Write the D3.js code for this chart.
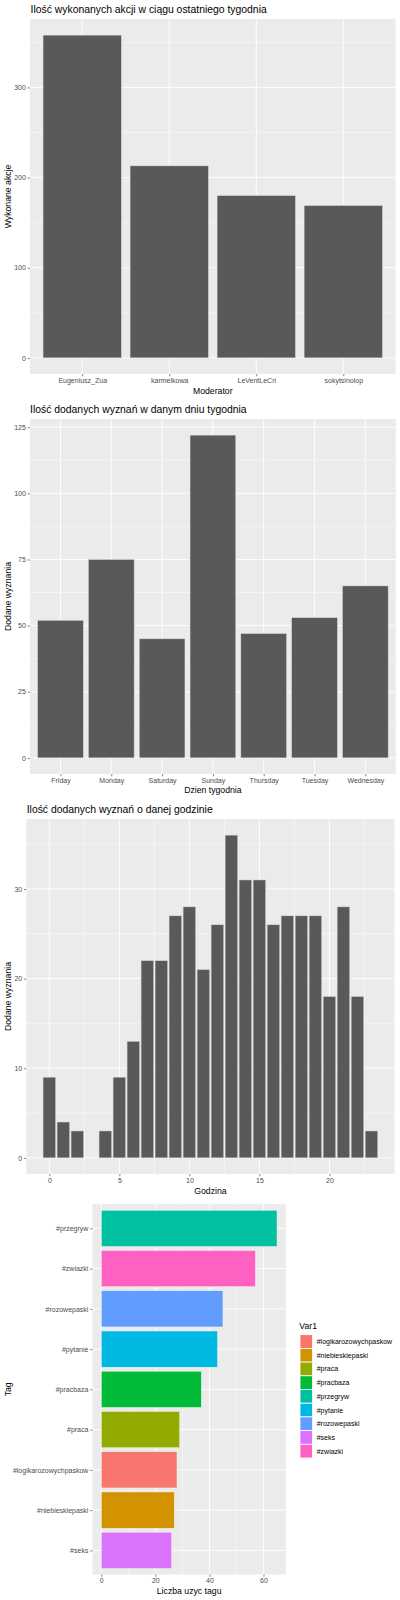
<!DOCTYPE html>
<html><head><meta charset="utf-8">
<script src="https://cdn.jsdelivr.net/npm/d3@7"></script>
<style>
html,body{margin:0;padding:0;background:#fff;}
svg text{font-family:"Liberation Sans",Arial,Helvetica,sans-serif;}
</style></head>
<body>
<svg id="c" width="400" height="1600"></svg>
<script>
// ---- data ----
const modNames = ["Eugeniusz_Zua","karmelkowa","LeVentLeCri","sokytsinolop"];
const modValues = [358, 213, 180, 169];

const dayNames = ["Friday","Monday","Saturday","Sunday","Thursday","Tuesday","Wednesday"];
const dayValues = [52, 75, 45, 122, 47, 53, 65];

const hours = [0,1,2,4,5,6,7,8,9,10,11,12,13,14,15,16,17,18,19,20,21,22,23];
const hourValues = [9,4,3,3,9,13,22,22,27,28,21,26,36,31,31,26,27,27,27,18,28,18,3];

const tagNames = ["#przegryw","#zwiazki","#rozowepaski","#pytanie","#pracbaza","#praca","#logikarozowychpaskow","#niebieskiepaski","#seks"];
const tagValues = [65, 57, 45, 43, 37, 29, 28, 27, 26];
const legendTags = ["#logikarozowychpaskow","#niebieskiepaski","#praca","#pracbaza","#przegryw","#pytanie","#rozowepaski","#seks","#zwiazki"];
const legendColors = ["#F8766D","#D39200","#93AA00","#00BA38","#00C19F","#00B9E3","#619CFF","#DB72FB","#FF61C3"];

const yTicks1 = [0,100,200,300];
const yTicks2 = [0,25,50,75,100,125];
const xTicks3 = [0,5,10,15,20];
const yTicks3 = [0,10,20,30];
const xTicks4 = [0,20,40,60];

// ---- style ----
const BG = "#EBEBEB", BAR = "#595959", TXT = "#4D4D4D";
const FT = 10.4, FA = 8.7, FK = 7;
const svg = d3.select("#c");
const tagColor = d3.scaleOrdinal().domain(legendTags).range(legendColors);

function panel(x0,x1,y0,y1){
  svg.append("rect").attr("x",x0).attr("y",y0).attr("width",x1-x0).attr("height",y1-y0).attr("fill",BG);
}
function hGrid(y, vals, x0, x1, w){
  svg.append("g").selectAll("line").data(vals).join("line")
    .attr("x1",x0).attr("x2",x1).attr("y1",d=>y(d)).attr("y2",d=>y(d))
    .attr("stroke","#fff").attr("stroke-width",w);
}
function vGrid(x, vals, y0, y1, w){
  svg.append("g").selectAll("line").data(vals).join("line")
    .attr("y1",y0).attr("y2",y1).attr("x1",d=>x(d)).attr("x2",d=>x(d))
    .attr("stroke","#fff").attr("stroke-width",w);
}
function leftAxis(scale, vals, x0, fmt){
  const g = svg.append("g").attr("transform",`translate(${x0},0)`)
    .call(d3.axisLeft(scale).tickValues(vals).tickSize(2.3).tickPadding(1.8).tickFormat(fmt||(d=>d)));
  g.select(".domain").remove();
  g.selectAll(".tick line").attr("stroke","#333").attr("stroke-width",0.6);
  g.selectAll(".tick text").attr("fill",TXT).style("font-size",FK+"px").style("font-family","Liberation Sans, Arial, sans-serif");
}
function bottomAxis(scale, vals, y0){
  const g = svg.append("g").attr("transform",`translate(0,${y0})`)
    .call(d3.axisBottom(scale).tickValues(vals).tickSize(2.3).tickPadding(1.6));
  g.select(".domain").remove();
  g.selectAll(".tick line").attr("stroke","#333").attr("stroke-width",0.6);
  g.selectAll(".tick text").attr("fill",TXT).style("font-size",FK+"px").style("font-family","Liberation Sans, Arial, sans-serif");
}
function title(txt,x,y){
  svg.append("text").attr("x",x).attr("y",y).attr("font-size",FT).attr("fill","#000").text(txt);
}
function xTitle(txt,cx,y){
  svg.append("text").attr("x",cx).attr("y",y).attr("text-anchor","middle").attr("font-size",FA).attr("fill","#000").text(txt);
}
function yTitle(txt,cy){
  svg.append("text").attr("transform",`translate(10.5,${cy}) rotate(-90)`).attr("text-anchor","middle").attr("font-size",FA).attr("fill","#000").text(txt);
}

// ===== Chart 1 =====
{
  const x0=30, x1=395.5, y0=19, y1=374;
  const mx = d3.max(modValues);
  const x = d3.scalePoint().domain(modNames).range([x0,x1]).padding(0.6);
  const y = d3.scaleLinear().domain([-0.05*mx, 1.05*mx]).range([y1,y0]);
  panel(x0,x1,y0,y1);
  hGrid(y,[50,150,250,350],x0,x1,0.45);
  hGrid(y,yTicks1,x0,x1,0.9);
  vGrid(x,modNames,y0,y1,0.9);
  const bw = x.step()*0.9;
  svg.append("g").selectAll("rect").data(modValues).join("rect")
    .attr("x",(d,i)=>x(modNames[i])-bw/2).attr("width",bw)
    .attr("y",d=>y(d)).attr("height",d=>y(0)-y(d))
    .attr("fill",BAR).attr("stroke","#d9d9d9").attr("stroke-width",0.5);
  leftAxis(y,yTicks1,x0);
  bottomAxis(x,modNames,y1);
  title("Ilość wykonanych akcji w ciągu ostatniego tygodnia",30.5,12.8);
  xTitle("Moderator",(x0+x1)/2,394.2);
  yTitle("Wykonane akcje",(y0+y1)/2);
}

// ===== Chart 2 =====
{
  const x0=30, x1=395.8, y0=419, y1=774;
  const mx = d3.max(dayValues);
  const x = d3.scalePoint().domain(dayNames).range([x0,x1]).padding(0.6);
  const y = d3.scaleLinear().domain([-0.05*mx, 1.05*mx]).range([y1,y0]);
  panel(x0,x1,y0,y1);
  hGrid(y,[12.5,37.5,62.5,87.5,112.5],x0,x1,0.45);
  hGrid(y,yTicks2,x0,x1,0.9);
  vGrid(x,dayNames,y0,y1,0.9);
  const bw = x.step()*0.9;
  svg.append("g").selectAll("rect").data(dayValues).join("rect")
    .attr("x",(d,i)=>x(dayNames[i])-bw/2).attr("width",bw)
    .attr("y",d=>y(d)).attr("height",d=>y(0)-y(d))
    .attr("fill",BAR).attr("stroke","#d9d9d9").attr("stroke-width",0.5);
  leftAxis(y,yTicks2,x0);
  bottomAxis(x,dayNames,y1);
  title("Ilość dodanych wyznań w danym dniu tygodnia",30,413);
  xTitle("Dzien tygodnia",(x0+x1)/2,793.2);
  yTitle("Dodane wyznania",(y0+y1)/2);
}

// ===== Chart 3 =====
{
  const x0=26.3, x1=394.5, y0=819, y1=1174;
  const mx = d3.max(hourValues);
  const lo = d3.min(hours)-0.45, hi = d3.max(hours)+0.45, ex = (hi-lo)*0.05;
  const x = d3.scaleLinear().domain([lo-ex, hi+ex]).range([x0,x1]);
  const y = d3.scaleLinear().domain([-0.05*mx, 1.05*mx]).range([y1,y0]);
  panel(x0,x1,y0,y1);
  hGrid(y,[5,15,25,35],x0,x1,0.45);
  vGrid(x,[2.5,7.5,12.5,17.5,22.5],y0,y1,0.45);
  hGrid(y,yTicks3,x0,x1,0.9);
  vGrid(x,xTicks3,y0,y1,0.9);
  svg.append("g").selectAll("rect").data(hourValues).join("rect")
    .attr("x",(d,i)=>x(hours[i]-0.45)).attr("width",(d,i)=>x(hours[i]+0.45)-x(hours[i]-0.45))
    .attr("y",d=>y(d)).attr("height",d=>y(0)-y(d))
    .attr("fill",BAR).attr("stroke","#d9d9d9").attr("stroke-width",0.5);
  leftAxis(y,yTicks3,x0);
  bottomAxis(x,xTicks3,y1);
  title("Ilość dodanych wyznań o danej godzinie",26.7,813);
  xTitle("Godzina",(x0+x1)/2,1193.8);
  yTitle("Dodane wyznania",(y0+y1)/2);
}

// ===== Chart 4 =====
{
  const x0=92.5, x1=285.8, y0=1204.2, y1=1574.5;
  const mx = d3.max(tagValues);
  const x = d3.scaleLinear().domain([-0.05*mx, 1.05*mx]).range([x0,x1]);
  const y = d3.scalePoint().domain(tagNames).range([y0,y1]).padding(0.6);
  panel(x0,x1,y0,y1);
  vGrid(x,[10,30,50],y0,y1,0.45);
  vGrid(x,xTicks4,y0,y1,0.9);
  hGrid(y,tagNames,x0,x1,0.9);
  const bh = y.step()*0.9;
  svg.append("g").selectAll("rect").data(tagValues).join("rect")
    .attr("y",(d,i)=>y(tagNames[i])-bh/2).attr("height",bh)
    .attr("x",x(0)).attr("width",d=>x(d)-x(0))
    .attr("fill",(d,i)=>tagColor(tagNames[i])).attr("stroke","#f0f0f0").attr("stroke-width",0.5);
  leftAxis(y,tagNames,x0);
  bottomAxis(x,xTicks4,y1);
  xTitle("Liczba uzyc tagu",(x0+x1)/2,1594.2);
  yTitle("Tag",(y0+y1)/2);

  // legend
  svg.append("text").attr("x",299.3).attr("y",1329).attr("font-size",FA).attr("fill","#000").text("Var1");
  const kh = 13.7, ky0 = 1334.7;
  const lg = svg.append("g");
  lg.selectAll("rect").data(legendTags).join("rect")
    .attr("x",300).attr("y",(d,i)=>ky0+i*kh).attr("width",12.6).attr("height",kh)
    .attr("fill",d=>tagColor(d)).attr("stroke","#fff").attr("stroke-width",0.8);
  lg.selectAll("text").data(legendTags).join("text")
    .attr("x",316.7).attr("y",(d,i)=>ky0+i*kh+kh/2).attr("dy","0.35em")
    .attr("font-size",FK).attr("fill","#000").text(d=>d);
}
</script>
</body></html>
